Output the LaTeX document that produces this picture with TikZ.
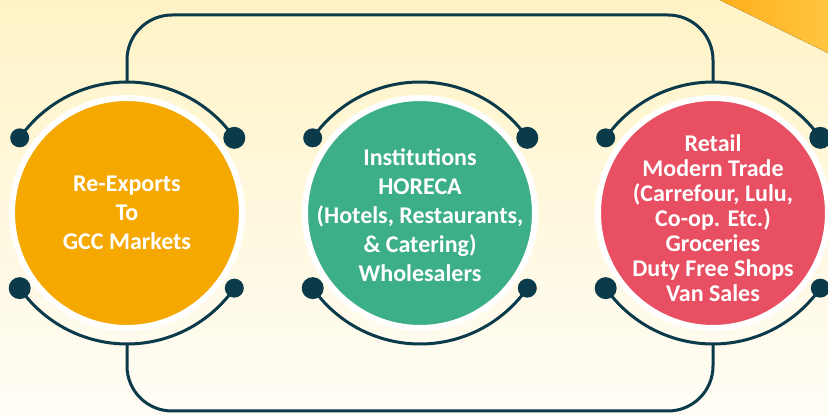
\documentclass[tikz,border=0pt]{standalone}
\usepackage{fontspec}
\setmainfont{Carlito}
\usetikzlibrary{positioning, calc}

\definecolor{navy}{HTML}{0B3A4B}
\definecolor{exportorange}{HTML}{F5A800}
\definecolor{horecagreen}{HTML}{3DAF87}
\definecolor{retailred}{HTML}{E84F62}
\definecolor{creamtop}{HTML}{FFF3C6}
\definecolor{creambottom}{HTML}{FFFDF6}
\definecolor{stripedark}{HTML}{FFAE1A}
\definecolor{stripelight}{HTML}{FFC640}

\tikzstyle{disc} = [circle, minimum size=230pt, inner sep=0pt, outer sep=0pt, draw=white, line width=6pt]
\tikzstyle{caption} = [text=white, align=center, font=\bfseries\fontsize{24}{29}\selectfont]
\tikzstyle{ring} = [draw=navy, line width=3pt]
\tikzstyle{dot} = [circle, fill=navy, inner sep=0pt, minimum size=19pt]
\tikzstyle{bigdot} = [dot, minimum size=22pt]
\tikzstyle{link} = [draw=navy, line width=3pt, rounded corners=45pt]

\begin{document}
\begin{tikzpicture}[x=1pt, y=1pt]

  % Backdrop
  \useasboundingbox (0,0) rectangle (828,415);
  \fill[top color=creamtop, bottom color=creambottom] (0,0) rectangle (828,415);
  \fill[left color=stripedark, right color=stripelight] (720,415) -- (828,362) -- (828,415) -- cycle;

  % Circles
  \node (reexp) [disc, fill=exportorange] at (127,202) {};
  \node (horeca) [disc, fill=horecagreen, right=63pt of reexp] {};
  \node (retail) [disc, fill=retailred, right=63pt of horeca] {};

  % Texts
  \node (reexp_text) [caption] at (reexp) {Re-Exports\\ To\\ GCC Markets};
  \node (horeca_text) [caption] at ($(horeca)+(0,-2)$) {Institutions\\ HORECA\\ (Hotels, Restaurants,\\ \& Catering)\\ Wholesalers};
  \node (retail_text) [caption, font=\bfseries\fontsize{24}{25}\selectfont] at ($(retail)+(0,-5)$) {Retail\\ Modern Trade\\ (Carrefour, Lulu,\\ Co-op. Etc.)\\ Groceries\\ Duty Free Shops\\ Van Sales};

  % Arcs and end dots round each circle
  \foreach \c in {reexp, horeca, retail} {
    \draw[ring] ($(\c)+(35:131)$) arc (35:145:131);
    \draw[ring] ($(\c)+(215:131)$) arc (215:325:131);
    \node (\c_tl) [dot] at ($(\c)+(145:131)$) {};
    \node (\c_tr) [bigdot] at ($(\c)+(35:131)$) {};
    \node (\c_bl) [bigdot] at ($(\c)+(215:131)$) {};
    \node (\c_br) [dot] at ($(\c)+(325:131)$) {};
    \coordinate (\c_top) at ($(\c)+(0,131)$);
    \coordinate (\c_bottom) at ($(\c)+(0,-131)$);
  }

  % Outer loop joining the two end circles
  \coordinate (top_rail) at (0,400);
  \coordinate (bottom_rail) at (0,4);
  \draw[link] (reexp_top) -- (reexp_top |- top_rail) -- (retail_top |- top_rail) -- (retail_top);
  \draw[link] (reexp_bottom) -- (reexp_bottom |- bottom_rail) -- (retail_bottom |- bottom_rail) -- (retail_bottom);

\end{tikzpicture}
\end{document}
